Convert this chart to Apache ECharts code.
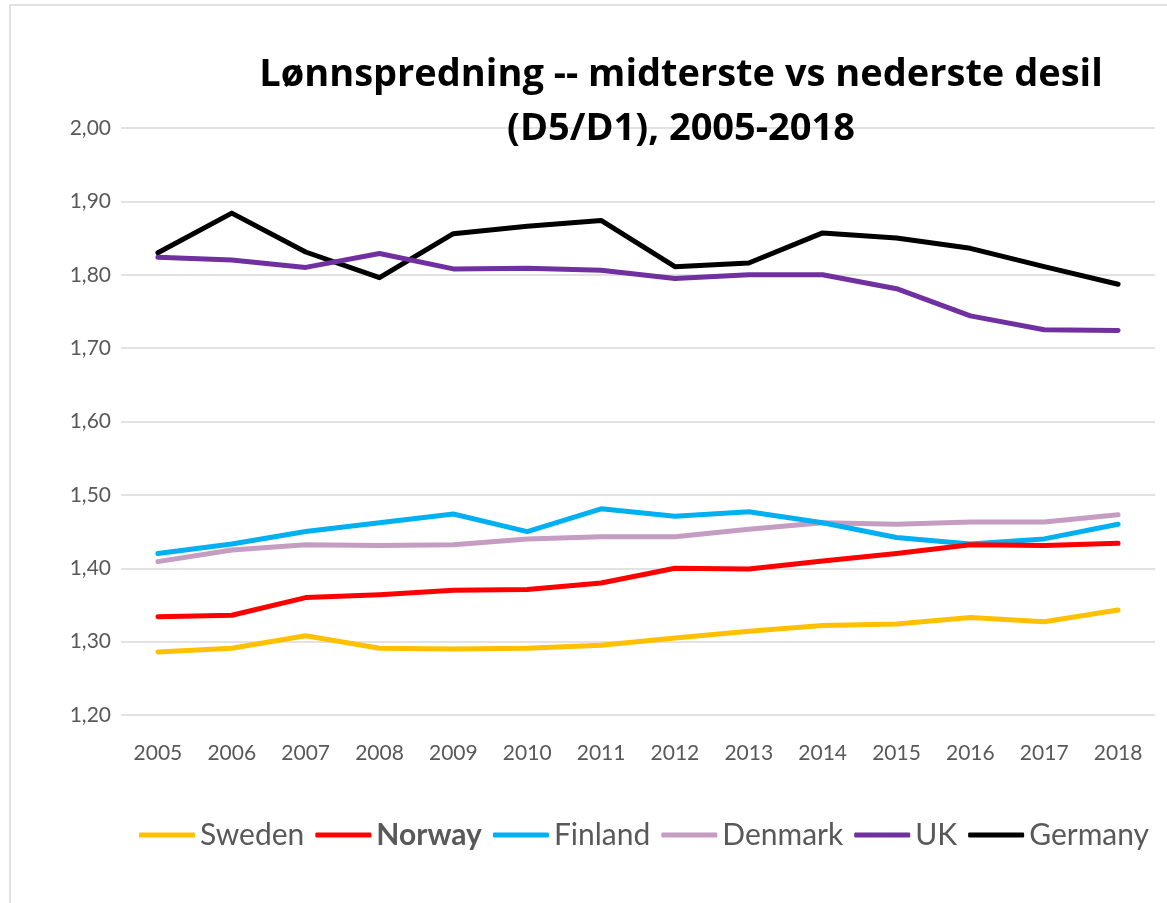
<!DOCTYPE html>
<html>
<head>
<meta charset="utf-8">
<script src="https://cdn.jsdelivr.net/npm/echarts@6/dist/echarts.min.js"></script>
<style>
  html, body { margin: 0; padding: 0; background: #fff; }
  #chart { width: 1167px; height: 903px; }
</style>
</head>
<body>
<div id="chart"></div>
<script>
  var years = ['2005', '2006', '2007', '2008', '2009', '2010', '2011', '2012', '2013', '2014', '2015', '2016', '2017', '2018'];
  var sweden  = [1.286, 1.291, 1.308, 1.291, 1.290, 1.291, 1.295, 1.305, 1.314, 1.322, 1.324, 1.333, 1.327, 1.343];
  var norway  = [1.334, 1.336, 1.360, 1.364, 1.370, 1.371, 1.380, 1.400, 1.399, 1.410, 1.420, 1.432, 1.431, 1.434];
  var finland = [1.420, 1.433, 1.450, 1.462, 1.474, 1.450, 1.481, 1.471, 1.477, 1.462, 1.442, 1.433, 1.440, 1.460];
  var denmark = [1.409, 1.425, 1.432, 1.431, 1.432, 1.440, 1.443, 1.443, 1.453, 1.462, 1.460, 1.463, 1.463, 1.473];
  var uk      = [1.824, 1.820, 1.810, 1.829, 1.808, 1.809, 1.806, 1.795, 1.800, 1.800, 1.781, 1.744, 1.725, 1.724];
  var germany = [1.830, 1.884, 1.831, 1.796, 1.856, 1.866, 1.874, 1.811, 1.816, 1.857, 1.850, 1.836, 1.811, 1.787];

  var font = 'Lato';
  var names = ['Sweden', 'Norway', 'Finland', 'Denmark', 'UK', 'Germany'];
  var colors = ['#FFC000', '#FF0000', '#00B0F0', '#C59CC2', '#7030A0', '#000000'];
  var values = [sweden, norway, finland, denmark, uk, germany];

  var series = [];
  for (var i = 0; i < names.length; i++) {
    series.push({
      name: names[i],
      type: 'line',
      data: values[i],
      symbol: 'none',
      z: 10 - i,
      lineStyle: { color: colors[i], width: 5, cap: 'round', join: 'round' },
      itemStyle: { color: colors[i] }
    });
  }

  var chart = echarts.init(document.getElementById('chart'));
  chart.setOption({
    animation: false,
    graphic: [{
      type: 'polyline',
      shape: { points: [[10, 903], [10, 5], [1167, 5]] },
      style: { stroke: '#d9d9d9', lineWidth: 1.5, fill: null },
      silent: true
    }],
    title: {
      text: 'Lønnspredning -- midterste vs nederste desil\n(D5/D1), 2005-2018',
      left: 676,
      top: 43,
      textAlign: 'center',
      textStyle: { fontFamily: 'Open Sans', fontSize: 38, fontWeight: 'bold', color: '#000', lineHeight: 54 }
    },
    legend: {
      bottom: 48,
      left: 134,
      itemWidth: 56,
      itemHeight: 5,
      itemGap: 11,
      icon: 'roundRect',
      data: names,
      formatter: function (name) {
        return name === 'Norway' ? '{b|' + name + '}' : '{n|' + name + '}';
      },
      textStyle: {
        fontFamily: font,
        fontSize: 30,
        color: '#595959',
        rich: {
          n: { fontFamily: font, fontSize: 30, color: '#595959' },
          b: { fontFamily: font, fontSize: 30, color: '#595959', fontWeight: 'bold' }
        }
      }
    },
    grid: { left: 121, right: 12, top: 128, bottom: 188 },
    xAxis: {
      type: 'category',
      data: years,
      boundaryGap: true,
      axisLine: { show: false },
      axisTick: { show: false },
      axisLabel: { fontFamily: font, fontSize: 21, color: '#595959', margin: 28 }
    },
    yAxis: {
      type: 'value',
      min: 1.2,
      max: 2.0,
      interval: 0.1,
      axisLine: { show: false },
      axisTick: { show: false },
      splitLine: { lineStyle: { color: '#d9d9d9', width: 1.5 } },
      axisLabel: {
        fontFamily: font, fontSize: 21, color: '#595959', margin: 10,
        formatter: function (v) { return v.toFixed(2).replace('.', ','); }
      }
    },
    series: series
  });
</script>
</body>
</html>
